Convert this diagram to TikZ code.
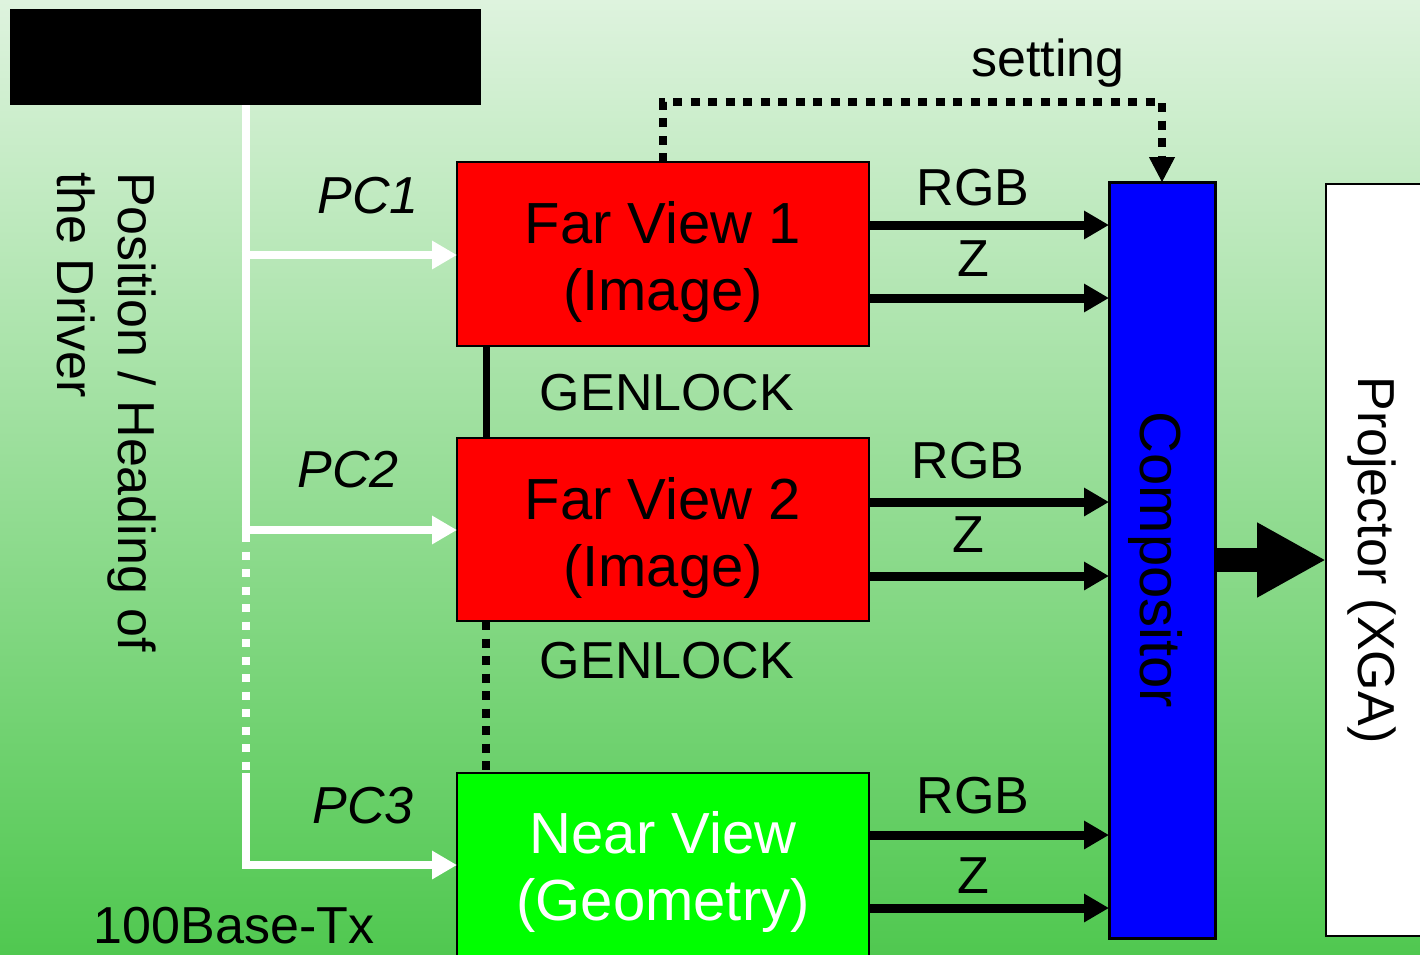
\documentclass[tikz,border=0pt]{standalone}
\usepackage{fontspec}
\setmainfont{Liberation Sans}
\usetikzlibrary{arrows.meta,calc}
\definecolor{bgtop}{RGB}{222,243,222}
\definecolor{bgbot}{RGB}{80,200,80}
\definecolor{nvgreen}{RGB}{0,255,0}
\begin{document}
\begin{tikzpicture}[x=1pt,y=-1pt,
  lbl/.style={font=\fontsize{52}{62}\selectfont, anchor=base, inner sep=0pt},
  boxlbl/.style={font=\fontsize{58}{70}\selectfont, anchor=base, inner sep=0pt},
  blk/.style={draw=black, line width=2pt, inner sep=0pt, outer sep=0pt},
  wline/.style={white, line width=8pt},
  warr/.style={wline, -{Triangle[length=25pt,width=27pt]}},
  barr/.style={black, line width=9pt, -{Triangle[length=25pt,width=27pt]}},
  bdots/.style={black, line width=8.5pt, dash pattern=on 9pt off 8.5pt},
  wdots/.style={white, line width=8pt, dash pattern=on 8pt off 9.5pt},
]
\useasboundingbox (0,0) rectangle (1420,954);
\clip (0,0) rectangle (1420,954);
\shade[top color=bgtop, bottom color=bgbot] (0,0) rectangle (1420,954);

% boxes
\node[draw=none, fill=black, inner sep=0pt, outer sep=0pt, minimum width=471pt, minimum height=96pt] (bb) at (245.5,57) {};
\node[blk, fill=red, minimum width=412pt, minimum height=184pt] (fv1) at (663,254) {};
\node[blk, fill=red, minimum width=412pt, minimum height=183pt] (fv2) at (663,529.5) {};
\node[blk, fill=nvgreen, minimum width=412pt, minimum height=260pt] (nv) at (663,903) {};
\node[blk, fill=blue, line width=3pt, minimum width=106pt, minimum height=756pt] (comp) at (1162,560) {};
\node[blk, fill=white, minimum width=160pt, minimum height=752pt] (proj) at (1406,560) {};

% box texts
\node[boxlbl] (fv1a) at (663,243) {Far View 1};
\node[boxlbl] (fv1b) at (663,310) {(Image)};
\node[boxlbl] (fv2a) at (663,519) {Far View 2};
\node[boxlbl] (fv2b) at (663,586) {(Image)};
\node[boxlbl, text=white] (nva) at (663,853) {Near View};
\node[boxlbl, text=white] (nvb) at (663,920) {(Geometry)};
\node[boxlbl, rotate=-90] (compt) at (1140,560) {Compositor};
\node[lbl, rotate=-90] (projt) at (1358,560) {Projector (XGA)};

% side texts
\node[lbl, rotate=-90, anchor=base west] (pos1) at (118,172) {Position / Heading of};
\node[lbl, rotate=-90, anchor=base west] (pos2) at (57,172) {the Driver};
\node[lbl] (pc1) at (368,213) {\itshape PC1};
\node[lbl] (pc2) at (348,487) {\itshape PC2};
\node[lbl] (pc3) at (363,823) {\itshape PC3};
\node[lbl] (net) at (234,943) {100Base-Tx};
\node[lbl] (gl1) at (667,410) {GENLOCK};
\node[lbl] (gl2) at (667,678) {GENLOCK};
\node[lbl] (set) at (1048,76) {setting};
\node[lbl] (rgb1) at (973,205) {RGB};
\node[lbl] (z1) at (973,276) {Z};
\node[lbl] (rgb2) at (968,478) {RGB};
\node[lbl] (z2) at (968,552) {Z};
\node[lbl] (rgb3) at (973,813) {RGB};
\node[lbl] (z3) at (973,893) {Z};

% network (white)
\draw[wline] (bb.south) -- (bb.south |- 0,530);
\draw[wdots] (bb.south |- 0,534) -- (bb.south |- 0,773);
\draw[warr] (bb.south |- 0,773) |- (nv.west |- 0,865);
\draw[warr] ($(bb.south |- 0,255)+(-4,0)$) -- (fv1.west |- 0,255);
\draw[warr] ($(bb.south |- 0,530)+(-4,0)$) -- (fv2.west |- 0,530);

% genlock
\draw[black, line width=7pt] (fv1.south -| 486,0) -- (fv2.north -| 486,0);
\draw[bdots] (fv2.south -| 486,0) -- (nv.north -| 486,0);

% setting
\draw[bdots] (fv1.north) -- (fv1.north |- 0,102) -| ($(comp.north)+(0,-26)$);
\draw[black, line width=1pt, -{Triangle[length=25pt,width=26pt]}] ($(comp.north)+(0,-26)$) -- (comp.north);

% RGB / Z
\draw[barr] (fv1.east |- 0,225) -- (comp.west |- 0,225);
\draw[barr] (fv1.east |- 0,298) -- (comp.west |- 0,298);
\draw[barr] (fv2.east |- 0,502) -- (comp.west |- 0,502);
\draw[barr] (fv2.east |- 0,576) -- (comp.west |- 0,576);
\draw[barr] (nv.east |- 0,835) -- (comp.west |- 0,835);
\draw[barr] (nv.east |- 0,908) -- (comp.west |- 0,908);

% output
\draw[black, line width=24pt, -{Triangle[length=69pt,width=70pt]}] (comp.east) -- (proj.west);
\end{tikzpicture}
\end{document}
